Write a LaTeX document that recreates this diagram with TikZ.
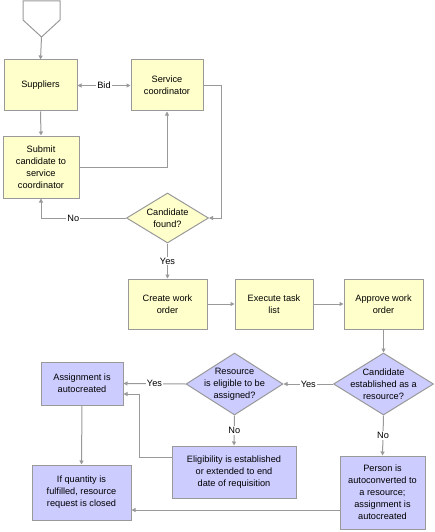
\documentclass[tikz,border=0pt]{standalone}
\usepackage{fontspec}
\setmainfont{Liberation Sans}
\usetikzlibrary{shapes.geometric,arrows.meta}
\definecolor{yfill}{HTML}{FFFFCC}
\definecolor{pfill}{HTML}{CCCCFF}
\definecolor{lgray}{HTML}{999999}
\begin{document}
\begin{tikzpicture}[x=1pt,y=-1pt,
  font=\fontsize{9.2}{12}\selectfont,
  ybox/.style={draw=lgray, line width=1pt, fill=yfill, align=center, inner sep=0pt},
  pbox/.style={draw=lgray, line width=1pt, fill=pfill, align=center, inner sep=0pt},
  ydia/.style={diamond, draw=lgray, line width=1pt, fill=yfill, inner sep=0pt},
  pdia/.style={diamond, draw=lgray, line width=1pt, fill=pfill, inner sep=0pt},
  dtext/.style={align=center, inner sep=0pt},
  arr/.style={draw=lgray, line width=1pt, -{Triangle[length=4pt,width=4pt]}},
  conn/.style={draw=lgray, line width=1pt},
  lbl/.style={fill=white, inner sep=1pt, text=black}
]
\useasboundingbox (0,0) rectangle (435,532);
% start connector
\draw[conn] (23,1) -- (60,1) -- (60,20) -- (41.5,37) -- (23,20) -- cycle;
\coordinate (start) at (41.5,37);
% nodes
\node[ybox, minimum width=73pt, minimum height=51pt] (sup) at (40.5,85.5) {Suppliers};
\node[ybox, minimum width=72pt, minimum height=51pt] (sc) at (167,85.5) {Service\\coordinator};
\node[ybox, minimum width=76pt, minimum height=62pt] (sub) at (41,167) {Submit\\candidate to\\service\\coordinator};
\node[ydia, minimum width=82pt, minimum height=50pt] (d1) at (167.5,218) {};
\node[dtext] (d1t) at (d1.center) {Candidate\\found?};
\node[ybox, minimum width=79pt, minimum height=50pt] (cwo) at (167.5,304) {Create work\\order};
\node[ybox, minimum width=78pt, minimum height=50pt] (etl) at (274,304) {Execute task\\list};
\node[ybox, minimum width=79pt, minimum height=50pt] (awo) at (383.5,304) {Approve work\\order};
\node[pdia, minimum width=100pt, minimum height=62pt] (d2) at (383.5,384) {};
\node[dtext] (d2t) at (d2.center) {Candidate\\established as a\\resource?};
\node[pdia, minimum width=97pt, minimum height=62pt] (d3) at (234.5,384) {};
\node[dtext] (d3t) at (d3.center) {Resource\\is eligible to be\\assigned?};
\node[pbox, minimum width=82pt, minimum height=43pt] (ac) at (82,383.5) {Assignment is\\autocreated};
\node[pbox, minimum width=124pt, minimum height=52pt] (eb) at (234,472) {Eligibility is established\\or extended to end\\date of requisition};
\node[pbox, minimum width=99pt, minimum height=55pt] (iq) at (81.5,492.5) {If quantity is\\fulfilled, resource\\request is closed};
\node[pbox, minimum width=85pt, minimum height=73pt] (pa) at (382.5,492.5) {Person is\\autoconverted to\\a resource;\\assignment is\\autocreated};
% connectors
\draw[arr] (start) -- (sup.north);
\draw[arr, {Triangle[length=4pt,width=4pt]}-{Triangle[length=4pt,width=4pt]}] (sup.east) -- node[lbl]{Bid} (sc.west);
\draw[arr] (sup.south) -- (sub.north);
\draw[arr] (sub.east) -| (sc.south);
\draw[arr] (sc.east) -- ++(17.5,0) |- (d1.east);
\draw[arr] (d1.west) -| node[lbl, pos=0.31]{No} (sub.south);
\draw[arr] (d1.south) -- node[lbl]{Yes} (cwo.north);
\draw[arr] (cwo.east) -- (etl.west);
\draw[arr] (etl.east) -- (awo.west);
\draw[arr] (awo.south) -- (d2.north);
\draw[arr] (d2.west) -- node[lbl]{Yes} (d3.east);
\draw[arr] (d3.west) -- node[lbl]{Yes} (ac.east);
\draw[arr] (d3.south) -- node[lbl]{No} (eb.north);
\draw[arr] ([yshift=15pt]eb.west) -- ++(-32,0) |- ([yshift=-10.5pt]ac.east);
\draw[arr] (ac.south) -- (iq.north);
\draw[arr] (d2.south) -- node[lbl]{No} (pa.north);
\draw[arr] ([yshift=-17.5pt]pa.west) -- ([yshift=-17.5pt]iq.east);
\end{tikzpicture}
\end{document}
